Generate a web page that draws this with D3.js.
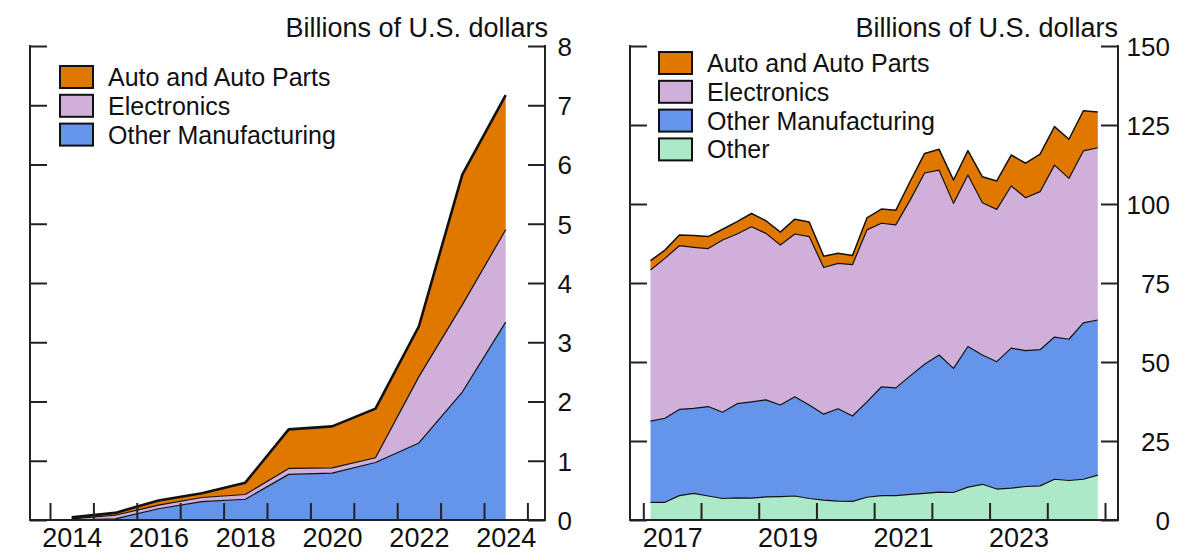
<!DOCTYPE html>
<html>
<head>
<meta charset="utf-8">
<script src="https://cdn.jsdelivr.net/npm/d3@7"></script>
<style>
  body { margin: 0; background: #fff; }
  svg { font-family: "Liberation Sans", Arial, sans-serif; }
</style>
</head>
<body>
<svg width="1200" height="560"></svg>
<script>
// ---- left panel: annual, billions of U.S. dollars ----
var annualYears = [2014, 2015, 2016, 2017, 2018, 2019, 2020, 2021, 2022, 2023, 2024];
var annualOtherMfg = [0.00, 0.02, 0.19, 0.31, 0.35, 0.77, 0.79, 0.97, 1.30, 2.16, 3.34];
var annualElectronics = [0.02, 0.06, 0.06, 0.07, 0.08, 0.10, 0.09, 0.08, 1.12, 1.47, 1.56];
var annualAuto = [0.025, 0.04, 0.08, 0.07, 0.20, 0.66, 0.70, 0.83, 0.85, 2.20, 2.27];
var annualTickYears = [2014, 2015, 2016, 2017, 2018, 2019, 2020, 2021, 2022, 2023, 2024, 2025];
var annualLabelYears = [2014, 2016, 2018, 2020, 2022, 2024];
var annualYTicks = [0, 1, 2, 3, 4, 5, 6, 7, 8];

// ---- right panel: quarterly ----
var quarters = ["2017Q1", "2017Q2", "2017Q3", "2017Q4", "2018Q1", "2018Q2", "2018Q3", "2018Q4",
    "2019Q1", "2019Q2", "2019Q3", "2019Q4", "2020Q1", "2020Q2", "2020Q3", "2020Q4",
    "2021Q1", "2021Q2", "2021Q3", "2021Q4", "2022Q1", "2022Q2", "2022Q3", "2022Q4",
    "2023Q1", "2023Q2", "2023Q3", "2023Q4", "2024Q1", "2024Q2", "2024Q3", "2024Q4"];
var qOther = [5.6, 5.6, 7.7, 8.4, 7.6, 6.8, 7.0, 6.9, 7.3, 7.4, 7.6, 6.8, 6.3, 6.0, 5.9, 7.2,
    7.7, 7.7, 8.1, 8.4, 8.8, 8.7, 10.4, 11.3, 9.8, 10.1, 10.6, 10.8, 12.9, 12.5, 12.9, 14.2];
var qOtherMfg = [25.7, 26.6, 27.3, 26.9, 28.3, 27.3, 29.8, 30.5, 30.7, 29.0, 31.4, 29.6, 27.2, 29.2, 27.0, 30.2,
    34.4, 34.1, 37.5, 40.9, 43.4, 39.3, 44.5, 40.9, 40.3, 44.3, 43.0, 43.1, 45.0, 44.7, 49.5, 49.1];
var qElectronics = [47.8, 50.6, 51.8, 51.0, 50.0, 54.5, 53.7, 55.4, 52.7, 50.6, 51.5, 53.3, 46.4, 46.0, 47.9, 54.4,
    51.8, 51.6, 55.7, 60.5, 58.5, 52.2, 54.3, 48.2, 48.2, 51.3, 48.4, 50.0, 54.4, 50.9, 54.4, 54.5];
var qAuto = [3.0, 2.6, 3.4, 3.7, 3.8, 3.4, 3.9, 4.2, 4.0, 4.1, 4.7, 4.6, 3.6, 3.2, 2.9, 3.8,
    4.5, 4.6, 5.9, 6.2, 6.6, 7.4, 7.7, 8.2, 9.0, 9.8, 10.9, 11.9, 12.2, 12.4, 12.7, 11.3];
var quarterTickYears = [2017, 2018, 2019, 2020, 2021, 2022, 2023, 2024, 2025];
var quarterLabelYears = [2017, 2019, 2021, 2023];
var quarterYTicks = [0, 25, 50, 75, 100, 125, 150];

var colors = {
    auto: "#e07800",
    electronics: "#d0afda",
    otherMfg: "#6495eb",
    other: "#abe9c8"
};
var names = {
    auto: "Auto and Auto Parts",
    electronics: "Electronics",
    otherMfg: "Other Manufacturing",
    other: "Other"
};

var svg = d3.select("svg");

function drawPanel(p) {
    var g = svg.append("g");

    var x = d3.scaleLinear().domain(p.xDomain).range(p.xRange);
    var y = d3.scaleLinear().domain(p.yDomain).range([520, 46]);

    var stack = d3.stack().keys(p.keys);
    var layers = stack(p.rows);

    var area = d3.area()
        .x(function(d) { return x(d.data.t); })
        .y0(function(d) { return y(d[0]); })
        .y1(function(d) { return y(d[1]); });

    var line = d3.line()
        .x(function(d) { return x(d.data.t); })
        .y(function(d) { return y(d[1]); });

    g.selectAll(".layer")
        .data(layers)
        .enter().append("path")
        .attr("class", "layer")
        .attr("d", area)
        .style("fill", function(d) { return colors[d.key]; });

    g.selectAll(".edge")
        .data(layers)
        .enter().append("path")
        .attr("class", "edge")
        .attr("d", line)
        .style("fill", "none")
        .style("stroke", "#111")
        .style("stroke-linejoin", "round")
        .style("stroke-width", function(d, i) {
            return i == layers.length - 1 ? p.topWidth : 1.2;
        });

    // frame: left, right, bottom
    var frame = g.append("g").style("stroke", "#222").style("stroke-width", 2);
    frame.append("line").attr("x1", p.frame[0]).attr("x2", p.frame[0]).attr("y1", 45).attr("y2", 521);
    frame.append("line").attr("x1", p.frame[1]).attr("x2", p.frame[1]).attr("y1", 45).attr("y2", 521);
    frame.append("line").attr("x1", p.frame[0] - 1).attr("x2", p.frame[1] + 1).attr("y1", 520).attr("y2", 520);

    // inner ticks
    g.append("g")
        .attr("class", "axis")
        .attr("transform", "translate(0,520)")
        .call(d3.axisBottom(x).tickValues(p.tickYears).tickSizeInner(-17).tickSizeOuter(0).tickFormat(""));

    g.append("g")
        .attr("class", "axis")
        .attr("transform", "translate(" + p.frame[0] + ",0)")
        .call(d3.axisLeft(y).tickValues(p.yTicks).tickSizeInner(-17).tickSizeOuter(0).tickFormat(""));

    var yr = g.append("g")
        .attr("class", "axis")
        .attr("transform", "translate(" + p.frame[1] + ",0)")
        .call(d3.axisRight(y).tickValues(p.yTicks).tickSizeInner(-17).tickSizeOuter(0));
    yr.selectAll("text")
        .attr("text-anchor", "end")
        .attr("x", p.labelRight)
        .attr("dy", "0.36em")
        .style("font-size", "26px");

    // year labels centred on mid-year
    g.append("g")
        .attr("class", "axis labels")
        .attr("transform", "translate(0,520)")
        .call(d3.axisBottom(x)
            .tickValues(p.labelYears.map(function(v) { return v + 0.5; }))
            .tickSize(0)
            .tickFormat(function(v) { return Math.floor(v); }))
        .selectAll("text")
        .attr("y", 27)
        .attr("dy", 0)
        .style("font-size", "27px");

    g.selectAll(".axis .domain").remove();
    g.selectAll(".axis line").style("stroke", "#222").style("stroke-width", 2);
    g.selectAll(".axis text")
        .style("fill", "#111")
        .style("font-family", "'Liberation Sans', Arial, sans-serif");

    g.append("text")
        .attr("x", p.titleX)
        .attr("y", 37)
        .attr("text-anchor", "end")
        .style("font-size", "27px")
        .style("fill", "#111")
        .text("Billions of U.S. dollars");

    // legend, top series first
    var leg = g.selectAll(".legend")
        .data(p.keys.slice().reverse())
        .enter().append("g")
        .attr("class", "legend")
        .attr("transform", function(d, i) {
            return "translate(" + p.legend[0] + "," + (p.legend[1] + i * 28.8) + ")";
        });
    leg.append("rect")
        .attr("width", 33)
        .attr("height", 22)
        .style("fill", function(d) { return colors[d]; })
        .style("stroke", "#111")
        .style("stroke-width", 2);
    leg.append("text")
        .attr("x", 48)
        .attr("y", 11)
        .attr("dy", "0.36em")
        .style("font-size", "25px")
        .style("fill", "#111")
        .text(function(d) { return names[d]; });
}

// left panel
var annualRows = annualYears.map(function(yr, i) {
    return {
        t: yr + 0.5,
        otherMfg: annualOtherMfg[i],
        electronics: annualElectronics[i],
        auto: annualAuto[i]
    };
});

drawPanel({
    rows: annualRows,
    keys: ["otherMfg", "electronics", "auto"],
    xDomain: [2014, 2025],
    xRange: [50, 527.4],
    yDomain: [0, 8],
    frame: [30, 545],
    tickYears: annualTickYears,
    labelYears: annualLabelYears,
    yTicks: annualYTicks,
    labelRight: 27,
    titleX: 548,
    topWidth: 2.6,
    legend: [60, 66]
});

// right panel
var quarterRows = quarters.map(function(q, i) {
    var yr = +q.slice(0, 4), qn = +q.slice(5);
    return {
        t: yr + (qn - 1) * 0.25 + 0.125,
        other: qOther[i],
        otherMfg: qOtherMfg[i],
        electronics: qElectronics[i],
        auto: qAuto[i]
    };
});

drawPanel({
    rows: quarterRows,
    keys: ["other", "otherMfg", "electronics", "auto"],
    xDomain: [2017, 2025],
    xRange: [643.3, 1105],
    yDomain: [0, 150],
    frame: [630, 1118],
    tickYears: quarterTickYears,
    labelYears: quarterLabelYears,
    yTicks: quarterYTicks,
    labelRight: 52,
    titleX: 1118,
    topWidth: 1.5,
    legend: [659, 52]
});
</script>
</body>
</html>
